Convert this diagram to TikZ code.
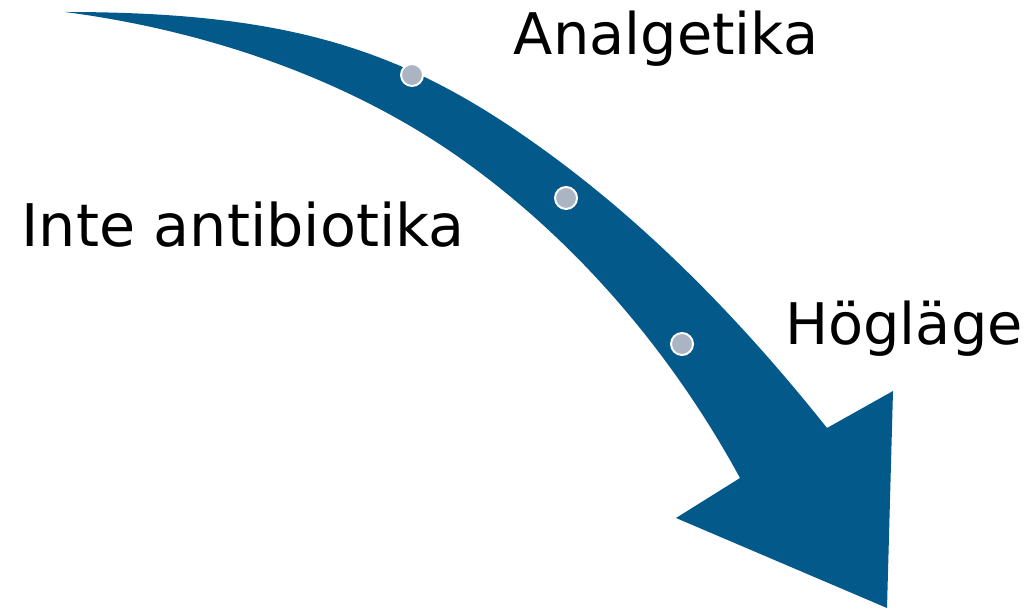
\documentclass[tikz,border=0pt]{standalone}
\usepackage{fontspec}
\setmainfont{DejaVu Sans}
\usepackage{tikz}
\usetikzlibrary{positioning}
\definecolor{arrowblue}{HTML}{02598A}
\definecolor{dotgray}{HTML}{ABB4C3}

\begin{document}
\begin{tikzpicture}[x=0.025cm,y=-0.025cm,font=\fontsize{40.8}{49}\selectfont,
  stopdot/.style={circle,fill=dotgray,draw=white,line width=1.4pt,minimum size=22*0.025cm,inner sep=0},
  lbl/.style={anchor=base,inner sep=0}]
\useasboundingbox (0,0) rectangle (1030,609);
% curved arrow
\fill[arrowblue] (65,12) .. controls (285,12) and (399,48) .. (530,140)
  .. controls (643,219) and (741,320) .. (827,428)
  -- (893,391) -- (887,608) -- (676,518) -- (740,478)
  .. controls (672,353) and (576,240) .. (460,158)
  .. controls (345,77) and (203,30) .. (65,12) -- cycle;
\node[stopdot] (stop1) at (412,75) {};
\node[stopdot] (stop2) at (566,198) {};
\node[stopdot] (stop3) at (682,344) {};
\node[lbl] (analg) at (666,55) {Analgetika};
\node[lbl,font=\fontsize{41.8}{50}\selectfont] (noabx) at (243,246.7) {Inte antibiotika};
\node[lbl] (hogl) at (904,345) {Högläge};
\end{tikzpicture}
\end{document}
